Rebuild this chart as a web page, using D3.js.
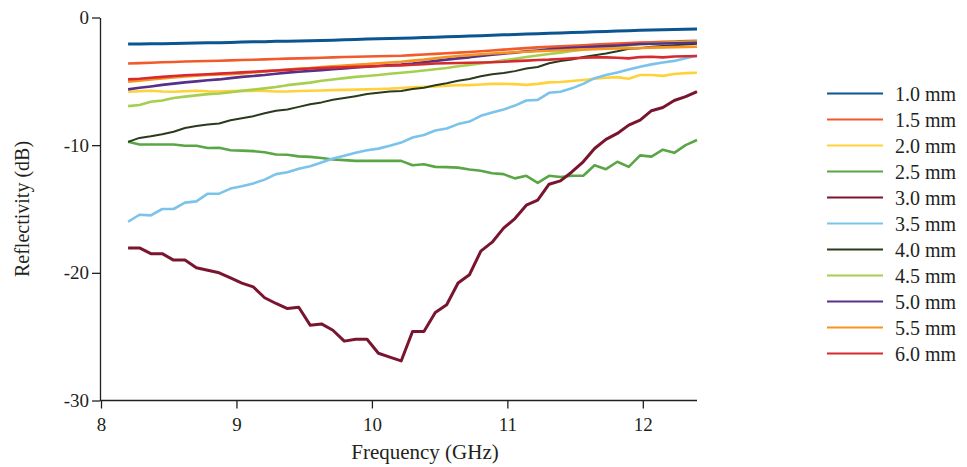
<!DOCTYPE html>
<html lang="en">
<head>
<meta charset="UTF-8">
<title>Reflectivity vs Frequency</title>
<script src="https://d3js.org/d3.v7.min.js"></script>
<style>
    body { margin: 0; background: #fff; }
    text { font-family: "Liberation Serif", "DejaVu Serif", serif; fill: #231f20; }
    .axis path, .axis line { stroke: #231f20; stroke-width: 1.3; fill: none; }
</style>
</head>
<body>
<div id="chart"></div>
<script>
// frequency samples (GHz)
var freq = [8.2, 8.284, 8.368, 8.452, 8.536, 8.62, 8.704, 8.788, 8.872, 8.956,
    9.04, 9.124, 9.208, 9.292, 9.376, 9.46, 9.544, 9.628, 9.712, 9.796,
    9.88, 9.964, 10.048, 10.132, 10.216, 10.3, 10.384, 10.468, 10.552, 10.636,
    10.72, 10.804, 10.888, 10.972, 11.056, 11.14, 11.224, 11.308, 11.392, 11.476,
    11.56, 11.644, 11.728, 11.812, 11.896, 11.98, 12.064, 12.148, 12.232, 12.316, 12.4];

var thickness = ["1.0 mm", "1.5 mm", "2.0 mm", "2.5 mm", "3.0 mm", "3.5 mm",
    "4.0 mm", "4.5 mm", "5.0 mm", "5.5 mm", "6.0 mm"];

var colors = ["#0b5590", "#f15a2b", "#ffd23c", "#5aa646", "#7a1530", "#7cc3ec",
    "#2b3a1c", "#a6cf50", "#553189", "#f7931e", "#d62a2f"];

var r10 = [-2.08, -2.07, -2.06, -2.05, -2.03, -2.02, -2.0, -1.98, -1.97, -1.95,
    -1.92, -1.9, -1.89, -1.87, -1.86, -1.84, -1.82, -1.8, -1.78, -1.75,
    -1.72, -1.69, -1.67, -1.65, -1.63, -1.6, -1.57, -1.54, -1.51, -1.48,
    -1.45, -1.42, -1.39, -1.36, -1.33, -1.3, -1.27, -1.24, -1.21, -1.18,
    -1.15, -1.12, -1.09, -1.06, -1.03, -1.0, -0.98, -0.96, -0.94, -0.92, -0.9];

var r15 = [-3.6, -3.57, -3.54, -3.51, -3.48, -3.45, -3.43, -3.41, -3.39, -3.36,
    -3.33, -3.31, -3.28, -3.25, -3.22, -3.2, -3.18, -3.15, -3.12, -3.09,
    -3.07, -3.05, -3.03, -3.02, -3.0, -2.95, -2.9, -2.85, -2.8, -2.75,
    -2.7, -2.64, -2.58, -2.52, -2.46, -2.4, -2.34, -2.3, -2.26, -2.22,
    -2.17, -2.12, -2.08, -2.04, -2.0, -1.97, -1.94, -1.91, -1.88, -1.85, -1.82];

var r20 = [-5.82, -5.78, -5.74, -5.8, -5.82, -5.78, -5.74, -5.78, -5.8, -5.76,
    -5.75, -5.74, -5.76, -5.8, -5.8, -5.76, -5.74, -5.72, -5.69, -5.67,
    -5.65, -5.63, -5.6, -5.57, -5.52, -5.46, -5.43, -5.4, -5.35, -5.3,
    -5.3, -5.25, -5.2, -5.2, -5.22, -5.28, -5.2, -5.08, -5.05, -4.98,
    -4.9, -4.8, -4.72, -4.67, -4.8, -4.5, -4.5, -4.57, -4.42, -4.36, -4.33];

var r25 = [-9.74, -9.95, -9.95, -9.95, -9.95, -10.05, -10.05, -10.22, -10.2, -10.4,
    -10.43, -10.47, -10.55, -10.73, -10.75, -10.88, -10.92, -11.0, -11.12, -11.17,
    -11.23, -11.23, -11.23, -11.23, -11.23, -11.57, -11.5, -11.7, -11.72, -11.76,
    -11.9, -12.0, -12.2, -12.27, -12.6, -12.4, -12.95, -12.4, -12.5, -12.4,
    -12.4, -11.57, -11.88, -11.3, -11.7, -10.8, -10.9, -10.35, -10.6, -10.0, -9.6];

var r30 = [-18.05, -18.05, -18.5, -18.5, -19.0, -19.0, -19.6, -19.8, -20.0, -20.4,
    -20.8, -21.1, -21.95, -22.4, -22.8, -22.7, -24.1, -24.0, -24.5, -25.35,
    -25.2, -25.2, -26.3, -26.6, -26.9, -24.6, -24.6, -23.1, -22.5, -20.8,
    -20.15, -18.3, -17.6, -16.5, -15.75, -14.7, -14.3, -13.06, -12.8, -12.1,
    -11.3, -10.26, -9.55, -9.08, -8.43, -8.04, -7.3, -7.05, -6.5, -6.2, -5.8];

var r35 = [-16.0, -15.45, -15.5, -15.0, -15.0, -14.5, -14.4, -13.8, -13.8, -13.4,
    -13.22, -13.0, -12.7, -12.27, -12.12, -11.85, -11.65, -11.35, -11.05, -10.82,
    -10.6, -10.4, -10.27, -10.05, -9.8, -9.4, -9.2, -8.85, -8.7, -8.35,
    -8.15, -7.7, -7.45, -7.2, -6.9, -6.5, -6.45, -5.9, -5.82, -5.55,
    -5.2, -4.75, -4.5, -4.3, -4.08, -3.86, -3.67, -3.53, -3.4, -3.2, -3.0];

var r40 = [-9.74, -9.43, -9.3, -9.14, -8.95, -8.65, -8.5, -8.38, -8.3, -8.05,
    -7.9, -7.73, -7.5, -7.3, -7.2, -7.0, -6.8, -6.65, -6.45, -6.3,
    -6.16, -6.0, -5.9, -5.8, -5.75, -5.6, -5.5, -5.3, -5.15, -4.95,
    -4.82, -4.6, -4.45, -4.35, -4.2, -4.0, -3.88, -3.58, -3.4, -3.3,
    -3.1, -2.95, -2.82, -2.65, -2.45, -2.4, -2.3, -2.24, -2.18, -2.12, -2.06];

var r45 = [-6.94, -6.86, -6.6, -6.5, -6.3, -6.2, -6.1, -6.0, -5.95, -5.85,
    -5.75, -5.65, -5.55, -5.45, -5.3, -5.2, -5.1, -4.95, -4.85, -4.75,
    -4.65, -4.58, -4.5, -4.4, -4.33, -4.25, -4.15, -4.05, -3.95, -3.82,
    -3.72, -3.6, -3.48, -3.36, -3.24, -3.1, -2.98, -2.86, -2.75, -2.62,
    -2.52, -2.43, -2.35, -2.26, -2.18, -2.1, -2.05, -2.0, -1.96, -1.93, -1.9];

var r50 = [-5.63, -5.5, -5.4, -5.28, -5.18, -5.08, -5.0, -4.92, -4.85, -4.75,
    -4.65, -4.58, -4.5, -4.4, -4.32, -4.25, -4.18, -4.12, -4.05, -4.0,
    -3.92, -3.85, -3.8, -3.72, -3.68, -3.6, -3.5, -3.4, -3.3, -3.2,
    -3.12, -3.02, -2.92, -2.83, -2.75, -2.65, -2.58, -2.5, -2.43, -2.38,
    -2.33, -2.28, -2.24, -2.19, -2.14, -2.08, -2.06, -2.04, -2.02, -2.0, -1.98];

var r55 = [-5.03, -4.95, -4.85, -4.77, -4.7, -4.62, -4.55, -4.5, -4.47, -4.44,
    -4.38, -4.3, -4.22, -4.15, -4.08, -4.0, -3.95, -3.88, -3.82, -3.76,
    -3.7, -3.65, -3.58, -3.52, -3.47, -3.38, -3.3, -3.2, -3.1, -3.02,
    -2.95, -2.88, -2.82, -2.77, -2.72, -2.68, -2.64, -2.6, -2.56, -2.53,
    -2.5, -2.48, -2.45, -2.43, -2.41, -2.39, -2.36, -2.34, -2.32, -2.3, -2.29];

var r60 = [-4.85, -4.8, -4.72, -4.65, -4.58, -4.52, -4.48, -4.44, -4.4, -4.35,
    -4.3, -4.25, -4.2, -4.15, -4.1, -4.05, -4.0, -3.96, -3.93, -3.9,
    -3.87, -3.84, -3.8, -3.78, -3.75, -3.7, -3.65, -3.6, -3.58, -3.56,
    -3.54, -3.52, -3.5, -3.47, -3.42, -3.38, -3.33, -3.3, -3.25, -3.2,
    -3.15, -3.12, -3.12, -3.15, -3.2, -3.1, -3.07, -3.12, -3.05, -3.03, -3.02];

var xTicks = [8, 9, 10, 11, 12];
var yTicks = [0, -10, -20, -30];

var seriesValues = [r10, r15, r20, r25, r30, r35, r40, r45, r50, r55, r60];
var series = thickness.map(function (name, i) {
    return {
        name: name,
        color: colors[i],
        values: freq.map(function (f, j) { return { f: f, r: seriesValues[i][j] }; })
    };
});

var W = 967, H = 467;
var margin = { top: 17.5, left: 100, right: 270, bottom: 66.5 };

var svg = d3.select("#chart").append("svg")
    .attr("width", W)
    .attr("height", H);

var x = d3.scaleLinear().domain([8, 12.4]).range([101, 697]);
var y = d3.scaleLinear().domain([-30, 0]).range([H - margin.bottom, margin.top]);

// axes
svg.append("g")
    .attr("class", "axis")
    .attr("transform", "translate(0," + y(-30) + ")")
    .call(d3.axisBottom(x).tickValues(xTicks).tickSize(8).tickSizeOuter(0)
        .tickFormat(function (d) { return String(d); }))
    .call(function (g) { g.select(".domain").attr("d", "M" + margin.left + ",0H697"); })
    .selectAll("text")
    .attr("dy", "1.0em")
    .style("font-size", "19px");

svg.append("g")
    .attr("class", "axis")
    .attr("transform", "translate(" + margin.left + ",0)")
    .call(d3.axisLeft(y).tickValues(yTicks).tickSize(8).tickSizeOuter(0)
        .tickFormat(function (d) { return String(d); }))
    .selectAll("text")
    .attr("x", -11)
    .style("font-size", "19px");

// lines
var line = d3.line()
    .x(function (d) { return x(d.f); })
    .y(function (d) { return y(d.r); });

svg.append("g")
    .selectAll("path")
    .data(series)
    .enter()
    .append("path")
    .attr("d", function (d) { return line(d.values); })
    .attr("fill", "none")
    .attr("stroke", function (d) { return d.color; })
    .attr("stroke-width", function (d) {
        if (d.name === "4.0 mm") return 2;
        if (d.name === "1.0 mm" || d.name === "3.0 mm") return 3;
        return 2.6;
    })
    .attr("stroke-linejoin", "round");

// axis titles
svg.append("text")
    .attr("x", 425)
    .attr("y", 459)
    .attr("text-anchor", "middle")
    .style("font-size", "21px")
    .text("Frequency (GHz)");

svg.append("text")
    .attr("transform", "translate(29," + ((y(0) + y(-30)) / 2) + ") rotate(-90)")
    .attr("text-anchor", "middle")
    .style("font-size", "20px")
    .text("Reflectivity (dB)");

// legend
var legend = svg.append("g")
    .selectAll("g")
    .data(series)
    .enter()
    .append("g")
    .attr("transform", function (d, i) { return "translate(827," + (93.5 + i * 26) + ")"; });

legend.append("line")
    .attr("x1", 0)
    .attr("x2", 56)
    .attr("stroke", function (d) { return d.color; })
    .attr("stroke-width", 1.8);

legend.append("text")
    .attr("x", 68)
    .attr("dy", "0.35em")
    .style("font-size", "20px")
    .text(function (d) { return d.name; });
</script>
</body>
</html>
